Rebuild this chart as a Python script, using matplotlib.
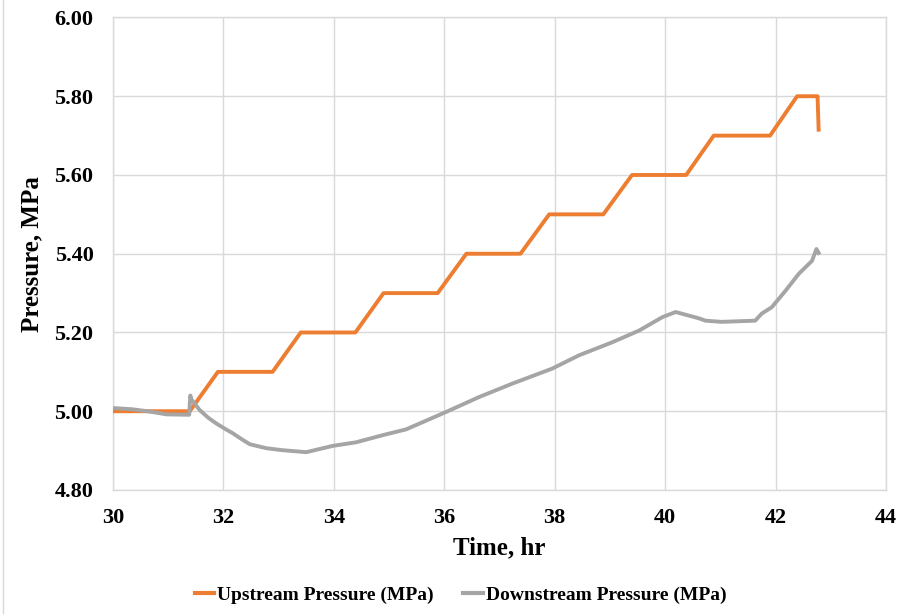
import matplotlib.pyplot as plt
from matplotlib.lines import Line2D

# ---------- data ----------
up_time = [30.0, 31.39, 31.9, 32.89, 33.4, 34.39, 34.9, 35.88, 36.4, 37.38,
           37.9, 38.88, 39.4, 40.38, 40.88, 41.9, 42.39, 42.76, 42.78]
up_pressure = [5.00, 5.00, 5.10, 5.10, 5.20, 5.20, 5.30, 5.30, 5.40, 5.40,
               5.50, 5.50, 5.60, 5.60, 5.70, 5.70, 5.80, 5.80, 5.715]

down_time = [30.0, 30.35, 30.67, 30.97, 31.38, 31.40, 31.42, 31.57, 31.72, 31.87,
             32.02, 32.17, 32.33, 32.48, 32.78, 33.07, 33.50, 33.98, 34.40, 34.88,
             35.31, 36.03, 36.63, 37.23, 37.95, 38.44, 39.04, 39.53, 39.95, 40.19,
             40.61, 40.73, 41.02, 41.63, 41.75, 41.93, 42.18, 42.42, 42.66, 42.74,
             42.78]
down_pressure = [5.008, 5.005, 4.999, 4.992, 4.991, 5.040, 5.030, 5.003, 4.984, 4.969,
                 4.956, 4.944, 4.929, 4.916, 4.906, 4.901, 4.896, 4.912, 4.921, 4.939,
                 4.954, 4.998, 5.036, 5.070, 5.108, 5.142, 5.175, 5.205, 5.239, 5.252,
                 5.236, 5.230, 5.227, 5.230, 5.248, 5.264, 5.306, 5.349, 5.382, 5.412,
                 5.402]

x_ticks = [30, 32, 34, 36, 38, 40, 42, 44]
y_ticks = [4.80, 5.00, 5.20, 5.40, 5.60, 5.80, 6.00]

ORANGE = "#ED7D31"
GREY = "#A5A5A5"
GRID = "#D9D9D9"

plt.rcParams['font.family'] = ['Liberation Serif', 'DejaVu Serif']
plt.rcParams['font.weight'] = 'bold'

fig = plt.figure(figsize=(9.12, 6.14), dpi=100)
ax = fig.add_axes([0.1239, 0.2020, 0.9715 - 0.1239, 0.9715 - 0.2020])

ax.plot(up_time, up_pressure, color=ORANGE, lw=2.8, solid_joinstyle='round',
        label="Upstream Pressure (MPa)", zorder=3)
ax.plot(down_time, down_pressure, color=GREY, lw=2.8, solid_joinstyle='round',
        label="Downstream Pressure (MPa)", zorder=3)

ax.set_xlim(30, 44)
ax.set_ylim(4.80, 6.00)
ax.set_xticks(x_ticks)
ax.set_yticks(y_ticks)
ax.set_yticklabels([f"{v:.2f}" for v in y_ticks])
ax.tick_params(length=0, labelsize=16)
ax.tick_params(axis='x', pad=13)
ax.tick_params(axis='y', pad=14)
for lab in ax.get_xticklabels() + ax.get_yticklabels():
    lab.set_fontweight('bold')

ax.grid(True, color=GRID, lw=1.0, zorder=0)
for s in ax.spines.values():
    s.set_color(GRID)
    s.set_linewidth(1.0)

ax.set_xlabel("Time, hr", fontsize=18, fontweight='bold', labelpad=6)
ax.set_ylabel("Pressure, MPa", fontsize=18, fontweight='bold', labelpad=8)

handles = [Line2D([0], [0], color=ORANGE, lw=3),
           Line2D([0], [0], color=GREY, lw=3)]
fig.legend(handles, ["Upstream Pressure (MPa)", "Downstream Pressure (MPa)"],
           loc='center', bbox_to_anchor=(0.505, 0.031), ncol=2, frameon=False,
           handlelength=1.0, handletextpad=0.15, columnspacing=1.5,
           prop={'weight': 'bold', 'size': 14})

# faint chart-area border on the left edge
fig.add_artist(Line2D([0.0035, 0.0035], [0, 1], transform=fig.transFigure,
                      color=GRID, lw=1.0))

fig.savefig("out.png", dpi=100)
